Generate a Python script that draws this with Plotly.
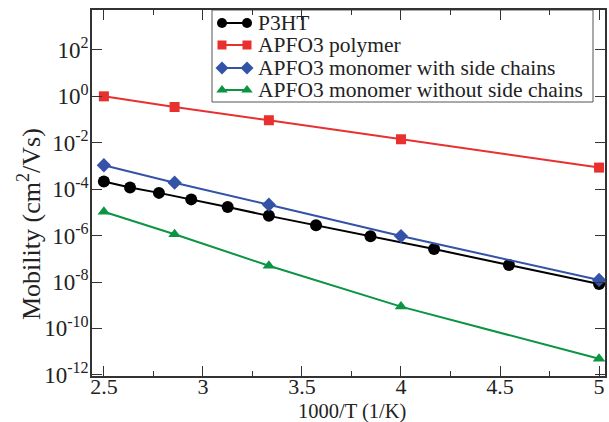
import plotly.graph_objects as go

# 1000/T values (1/K)
x_p3ht = [2.5, 2.632, 2.778, 2.941, 3.125, 3.333, 3.571, 3.846, 4.167, 4.545, 5.0]
logmu_p3ht = [-3.67, -3.93, -4.16, -4.44, -4.77, -5.15, -5.55, -6.03, -6.58, -7.27, -8.09]

x_apfo = [2.5, 2.857, 3.333, 4.0, 5.0]
logmu_polymer = [0.0, -0.46, -1.03, -1.85, -3.07]
logmu_mono_side = [-2.97, -3.72, -4.67, -6.02, -7.91]
logmu_mono_noside = [-4.97, -5.94, -7.30, -9.06, -11.31]

names = ["P3HT", "APFO3 polymer", "APFO3 monomer with side chains",
         "APFO3 monomer without side chains"]

ytick_exp = [-12, -10, -8, -6, -4, -2, 0, 2]
xtick_vals = [2.5, 3, 3.5, 4, 4.5, 5]
xtick_text = ["2.5", "3", "3.5", "4", "4.5", "5"]

FONT = "Liberation Serif, Times New Roman, serif"
TXT = "#222222"

# plot area in pixels (for layout only)
L, R, T, B = 92, 605, 10, 376
W, H = 609, 422

series = [
    (x_p3ht, logmu_p3ht, "#000000", "circle", 12, 10),
    (x_apfo, logmu_polymer, "#e8302f", "square", 10, 9),
    (x_apfo, logmu_mono_side, "#3452a8", "diamond", 11, 10),
    (x_apfo, logmu_mono_noside, "#0b9444", "triangle-up", 11, 10),
]

fig = go.Figure()
for (xs, ls, col, sym, sz, _), nm in zip(series, names):
    fig.add_trace(go.Scatter(
        x=xs, y=[10 ** v for v in ls], name=nm, mode="lines+markers",
        line=dict(color=col, width=2),
        marker=dict(symbol=sym, size=sz, color=col),
        showlegend=False,
    ))

# custom legend (pixel-based overlay axes), markers at both ends like the original
leg_rows = [23, 45, 68, 90]
leg_x0, leg_x1, leg_text_x = 222, 247, 256
fig.add_shape(type="rect", xref="paper", yref="paper",
              x0=(212 - L) / (R - L), x1=(593 - L) / (R - L),
              y0=(B - 102) / (B - T), y1=(B - 10) / (B - T),
              line=dict(color="#555555", width=1), fillcolor="white", layer="below")
for (xs, ls, col, sym, sz, lsz), nm, ry in zip(series, names, leg_rows):
    fig.add_trace(go.Scatter(
        x=[leg_x0, leg_x1], y=[ry, ry], mode="lines+markers", xaxis="x2", yaxis="y2",
        line=dict(color=col, width=2), marker=dict(symbol=sym, size=lsz, color=col),
        showlegend=False, hoverinfo="skip",
    ))
    fig.add_annotation(x=leg_text_x, y=ry, xref="x2", yref="y2", text=nm,
                       showarrow=False, xanchor="left", yanchor="middle",
                       font=dict(family=FONT, size=21.5, color=TXT))

# axis titles
fig.add_annotation(x=(29 - L) / (R - L), y=(B - 224) / (B - T), xref="paper", yref="paper",
                   text="Mobility (cm<sup>2</sup>/Vs)", textangle=-90, showarrow=False,
                   xanchor="center", yanchor="middle",
                   font=dict(family=FONT, size=26, color=TXT))
fig.add_annotation(x=(352 - L) / (R - L), y=0, xref="paper", yref="paper",
                   text="1000/T (1/K)", showarrow=False, borderpad=0,
                   xanchor="center", yanchor="top", yshift=-(399 - B),
                   font=dict(family=FONT, size=20.5, color=TXT))

axis_common = dict(
    showline=True, linecolor="#333333", linewidth=1.5, mirror="allticks",
    ticks="inside", tickcolor="#333333", tickwidth=1.2, ticklen=10,
    showgrid=False, zeroline=False, automargin=False,
)

fig.update_layout(
    width=W, height=H,
    margin=dict(l=L, r=W - R, t=T, b=H - B, autoexpand=False),
    paper_bgcolor="white", plot_bgcolor="white",
    font=dict(family=FONT, size=21, color=TXT),
    xaxis=dict(
        range=[2.44, 5.03], tickvals=xtick_vals, ticktext=xtick_text,
        minor=dict(dtick=0.25, tick0=2.5, ticks="inside", ticklen=5,
                   tickcolor="#333333", tickwidth=1.2, showgrid=False),
        tickfont=dict(family=FONT, size=22, color=TXT),
        ticklabelstandoff=-10,
        **axis_common,
    ),
    yaxis=dict(
        type="log", range=[-12.05, 3.72],
        tickvals=[10 ** e for e in ytick_exp],
        ticktext=["10<sup>%d</sup>" % e for e in ytick_exp],
        tickfont=dict(family=FONT, size=23, color=TXT),
        ticklabelstandoff=-3,
        **axis_common,
    ),
    xaxis2=dict(range=[L, R], overlaying="x", anchor="y2", visible=False, fixedrange=True),
    yaxis2=dict(range=[B, T], overlaying="y", anchor="x2", visible=False, fixedrange=True),
    showlegend=False,
)

fig.write_html("out.html")
